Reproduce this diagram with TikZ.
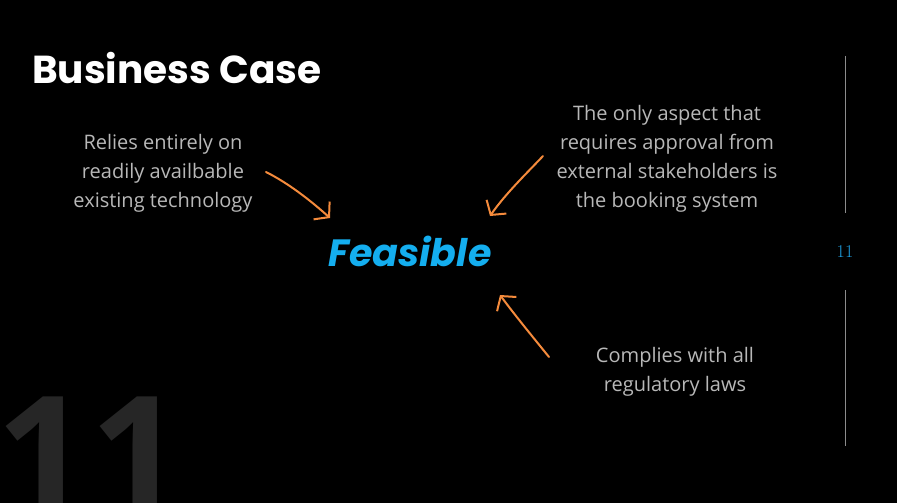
\documentclass[tikz,border=0pt]{standalone}
\usepackage{fontspec}
\setmainfont{Open Sans}
\newfontfamily\headfont{Poppins}
\usetikzlibrary{arrows.meta}
\definecolor{bodygray}{HTML}{B8B8B8}
\definecolor{accentblue}{HTML}{14AEEF}
\definecolor{pageblue}{HTML}{1EA0E2}
\definecolor{arroworange}{HTML}{F58B3C}
\definecolor{rulegray}{HTML}{8C8C8C}
\definecolor{bignum}{HTML}{262626}
\tikzset{
  x=1pt, y=-1pt,
  bodytext/.style={text=bodygray, align=center, font=\fontsize{20}{29}\selectfont, inner sep=0pt},
  sketcharrow/.style={draw=arroworange, line width=2pt, line cap=round, line join=round,
    -{Straight Barb[length=10pt, width=24pt, line width=2pt]}},
  siderule/.style={draw=rulegray, line width=0.8pt},
}
\begin{document}
\begin{tikzpicture}
  \fill[black] (0,0) rectangle (897,503);
  \useasboundingbox (0,0) rectangle (897,503);

  % large faded slide number, clipped at the bottom edge
  \begin{scope}
    \clip (0,0) rectangle (897,503);
    \node[anchor=base west, text=bignum, inner sep=0pt,
      font=\bfseries\fontsize{162}{162}\selectfont] (bignumber) at (-4,512) {1\kern2pt1};
  \end{scope}

  % title
  \node[anchor=base west, text=white, inner sep=0pt,
    font=\headfont\bfseries\fontsize{39}{46}\selectfont] (title) at (32,84) {Business Case};

  % central statement
  \node[text=accentblue, inner sep=0pt,
    font=\headfont\bfseries\itshape\fontsize{38}{44}\selectfont] (feasible) at (410,251) {Feasible};

  % supporting points
  \node[bodytext] (tech) at (163,173) {Relies entirely on\\readily availbable\\existing technology};
  \node[bodytext] (approval) at (667,159) {The only aspect that\\requires approval from\\external stakeholders is\\the booking system};
  \node[bodytext] (laws) at (675,372) {Complies with all\\regulatory laws};

  % arrow ends
  \coordinate (a1s) at (266,172);
  \coordinate (a1e) at (330,218);
  \coordinate (a2s) at (543,156);
  \coordinate (a2e) at (490,216);
  \coordinate (a3s) at (549,357);
  \coordinate (a3e) at (500,295);

  \draw[sketcharrow] (a1s) .. controls (288,183) and (310,200) .. (a1e);
  \draw[sketcharrow] (a2s) .. controls (528,172) and (506,193) .. (a2e);
  \draw[sketcharrow] (a3s) .. controls (532,336) and (514,314) .. (a3e);

  % page marker at the right edge
  \coordinate (r1t) at (845,56);
  \coordinate (r1b) at (845,213);
  \coordinate (r2t) at (845,290);
  \coordinate (r2b) at (845,446);
  \draw[siderule] (r1t) -- (r1b);
  \draw[siderule] (r2t) -- (r2b);
  \node[text=pageblue, inner sep=0pt, font=\fontsize{18}{18}\selectfont] (pagenum) at (845,252)
    {\fontspec{Latin Modern Roman}11};
\end{tikzpicture}
\end{document}
